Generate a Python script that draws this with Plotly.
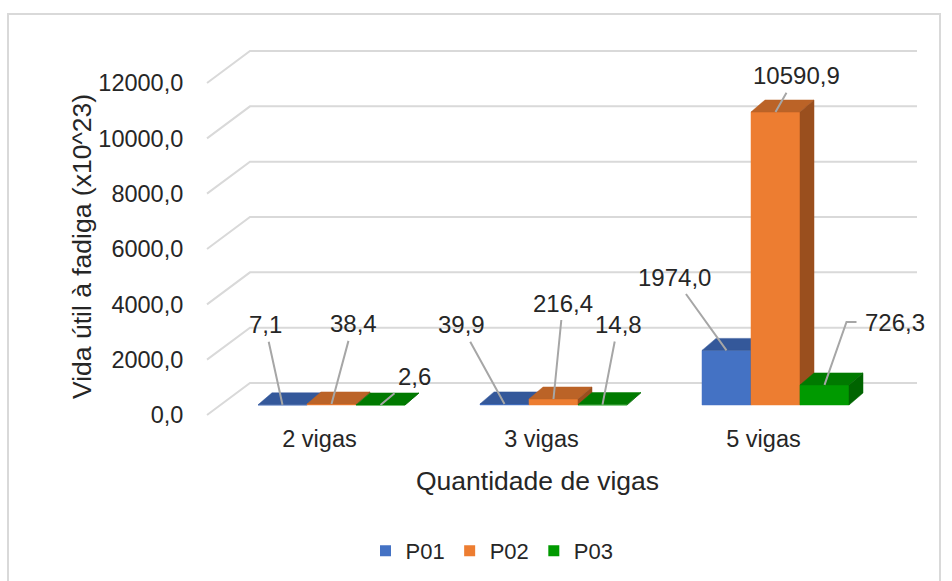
import plotly.graph_objects as go

# ---- data -------------------------------------------------------------
categories = ["2 vigas", "3 vigas", "5 vigas"]
series_names = ["P01", "P02", "P03"]
p01 = [7.1, 39.9, 1974.0]
p02 = [38.4, 216.4, 10590.9]
p03 = [2.6, 14.8, 726.3]
y_ticks = [0, 2000, 4000, 6000, 8000, 10000, 12000]

series_values = [p01, p02, p03]

# ---- style ------------------------------------------------------------
FONT = "Liberation Sans, Arial, sans-serif"
TEXT = "#262626"
GRID = "#D9D9D9"
LEADER = "#A6A6A6"
front_colors = ["#4472C4", "#ED7D31", "#009A00"]
top_colors = ["#34589A", "#BB6327", "#007A00"]
side_colors = ["#2D4C86", "#9A4F1E", "#006400"]

# ---- page / projection geometry (pixels) ------------------------------
W, H = 952, 581
PLOT_L, PLOT_R, PLOT_T, PLOT_B = 196, 940, 40, 422
CAT_PX = 222.0          # distance between category groups
GROUP0_PX = 331.5       # centre of the first group
BASE_PX = 405.0         # value 0 on the bar front plane
PX_PER_UNIT = 332.0 / 12000.0
BAR_PX = 49.0           # bar width
BAR_DX, BAR_DY = 14.0, 12.0      # bar depth (oblique)
WALL_X, WALL_BACK = 250.0, 22.0  # back wall left edge, depth behind bar front
FLOOR_X, FLOOR_FRONT = 207.0, 10.0  # front edge of floor, ahead of bar front
GRID_END_X = 917.0


def xd(px):
    """pixel x -> category axis units"""
    return (px - GROUP0_PX) / CAT_PX


def ddx(px):
    return px / CAT_PX


def ddy(px):
    return px / PX_PER_UNIT


def paper_x(px):
    return (px - PLOT_L) / (PLOT_R - PLOT_L)


def paper_y(py):
    return (PLOT_B - py) / (PLOT_B - PLOT_T)


bar_w = ddx(BAR_PX)
bdx, bdy = ddx(BAR_DX), ddy(BAR_DY)

fig = go.Figure()

# back-wall gridlines with the diagonal floor/side edge
gx, gy = [], []
for v in y_ticks:
    gx += [xd(FLOOR_X), xd(WALL_X), xd(GRID_END_X), None]
    gy += [v - ddy(FLOOR_FRONT), v + ddy(WALL_BACK), v + ddy(WALL_BACK), None]
fig.add_trace(go.Scatter(x=gx, y=gy, mode="lines", line=dict(color=GRID, width=2),
                         hoverinfo="skip", showlegend=False))

# 3-D looking bars: front, top and side faces per series
for s, vals in enumerate(series_values):
    fx, fy, tx, ty, sx, sy = [], [], [], [], [], []
    for i, v in enumerate(vals):
        x0 = i + (s - 1.5) * bar_w
        x1 = x0 + bar_w
        fx += [x0, x1, x1, x0, x0, None]
        fy += [0, 0, v, v, 0, None]
        tx += [x0, x1, x1 + bdx, x0 + bdx, x0, None]
        ty += [v, v, v + bdy, v + bdy, v, None]
        sx += [x1, x1 + bdx, x1 + bdx, x1, x1, None]
        sy += [0, bdy, v + bdy, v, 0, None]
    for px_, py_, col in ((fx, fy, front_colors[s]), (tx, ty, top_colors[s]), (sx, sy, side_colors[s])):
        fig.add_trace(go.Scatter(x=px_, y=py_, mode="lines", fill="toself", fillcolor=col,
                                 line=dict(color=col, width=0.5), hoverinfo="skip",
                                 showlegend=False))

# legend entries
for s, name in enumerate(series_names):
    fig.add_trace(go.Scatter(x=[None], y=[None], mode="markers", name=name,
                             marker=dict(symbol="square", size=11, color=front_colors[s])))

# data labels with leader lines (offsets of label centre from bar front-top, px)
label_offsets = [
    [(-17.5, -80), (-43.5, -79), (-52.5, -73)],
    [(21.5, -80), (9.5, -96), (20.5, -36)],
    [(33.5, -28), (15.5, -80), (70.5, -62)],
]
# label whose leader has an elbow: (series, category, elbow dx, elbow dy, end dx)
elbow = (2, 2, 22.0, 63.0, 32.0)

annotations = []
for s, vals in enumerate(series_values):
    for i, v in enumerate(vals):
        ox, oy = label_offsets[s][i]
        xc = i + (s - 1) * bar_w
        txt = f"{v:.1f}".replace(".", ",")
        font = dict(family=FONT, size=24, color=TEXT)
        if (s, i) == elbow[:2]:
            _, _, ex, ey, ex2 = elbow
            fig.add_trace(go.Scatter(
                x=[xc, xc + ddx(ex), xc + ddx(ex2)], y=[v, v + ddy(ey), v + ddy(ey)],
                mode="lines", line=dict(color=LEADER, width=2),
                hoverinfo="skip", showlegend=False))
            annotations.append(dict(x=xc, y=v, xref="x", yref="y", text=txt,
                                    showarrow=False, xshift=ox, yshift=-oy,
                                    xanchor="center", yanchor="middle", font=font))
        else:
            annotations.append(dict(
                x=xc, y=v, xref="x", yref="y", text=txt,
                showarrow=True, arrowhead=0, arrowwidth=2, arrowcolor=LEADER,
                ax=ox, ay=oy, standoff=0, startstandoff=2, font=font))

# axis titles
annotations.append(dict(x=paper_x(537.5), y=paper_y(481), xref="paper", yref="paper",
                        text="Quantidade de vigas", showarrow=False,
                        xanchor="center", yanchor="middle",
                        font=dict(family=FONT, size=26.5, color=TEXT)))
annotations.append(dict(x=paper_x(82), y=paper_y(247), xref="paper", yref="paper",
                        text="Vida útil à fadiga (x10^23)", showarrow=False, textangle=-90,
                        xanchor="center", yanchor="middle",
                        font=dict(family=FONT, size=26.5, color=TEXT)))

fig.update_layout(
    width=W, height=H,
    margin=dict(l=PLOT_L, r=W - PLOT_R, t=PLOT_T, b=H - PLOT_B, autoexpand=False),
    paper_bgcolor="white", plot_bgcolor="white",
    font=dict(family=FONT, color=TEXT),
    showlegend=True,
    legend=dict(orientation="h", x=paper_x(492), y=paper_y(551), xanchor="center",
                yanchor="middle", font=dict(family=FONT, size=22, color=TEXT),
                itemwidth=30, bgcolor="rgba(0,0,0,0)"),
    annotations=annotations,
    shapes=[dict(type="rect", xref="paper", yref="paper",
                 x0=paper_x(8), x1=paper_x(940), y0=paper_y(14), y1=paper_y(600),
                 line=dict(color=GRID, width=2), layer="below")],
)

fig.update_xaxes(
    range=[xd(PLOT_L), xd(PLOT_R)], showgrid=False, zeroline=False, showline=False,
    tickmode="array", tickvals=[i - ddx(12) for i in range(len(categories))],
    ticktext=categories, ticks="",
    tickfont=dict(family=FONT, size=23.5, color=TEXT), fixedrange=True,
)
fig.update_yaxes(
    range=[(BASE_PX - PLOT_B) / PX_PER_UNIT, (BASE_PX - PLOT_T) / PX_PER_UNIT],
    showgrid=False, zeroline=False, showline=False,
    tickmode="array", tickvals=[v - ddy(FLOOR_FRONT) for v in y_ticks],
    ticktext=[f"{v:.1f}".replace(".", ",") for v in y_ticks],
    ticks="outside", ticklen=7, tickcolor="rgba(0,0,0,0)",
    tickfont=dict(family=FONT, size=23.5, color=TEXT), fixedrange=True,
)

fig.write_html("out.html")
